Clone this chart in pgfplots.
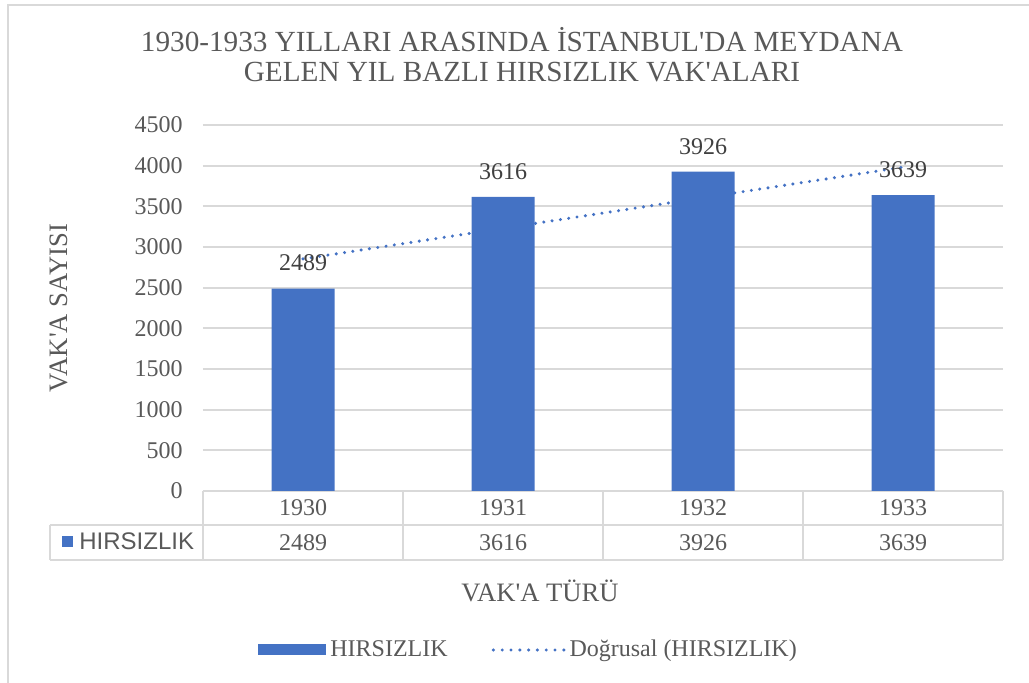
\documentclass[border=0pt]{standalone}
\usepackage{fontspec}
\setmainfont{Liberation Serif}[Ligatures=TeXOff]
\newfontfamily\sansf{Liberation Sans}
\usepackage{pgfplots}
\usepackage{pgfplotstable}
\pgfplotsset{compat=1.18}
\definecolor{barblue}{HTML}{4472C4}
\definecolor{txtgray}{HTML}{595959}
\definecolor{lblgray}{HTML}{404040}
\definecolor{gridgray}{HTML}{D9D9D9}
\pgfplotstableread{
x y
0 2489
1 3616
2 3926
3 3639
}\datatable
\begin{document}
\begin{tikzpicture}
\begin{scope}[x=0.5pt,y=-0.5pt]
\path[use as bounding box] (0,0) rectangle (1029,683);
\draw[gridgray, line width=1pt] (8,683) -- (8,5) -- (1029,5);
\node[anchor=base, font=\fontsize{14.6}{16}\selectfont, text=txtgray, inner sep=0pt] at (522,52) {1930-1933 YILLARI ARASINDA İSTANBUL'DA MEYDANA};
\node[anchor=base, font=\fontsize{14.6}{16}\selectfont, text=txtgray, inner sep=0pt] at (522,82) {GELEN YIL BAZLI HIRSIZLIK VAK'ALARI};
\node[anchor=base, rotate=90, font=\fontsize{13.3}{15}\selectfont, text=txtgray, inner sep=0pt] at (68,308) {VAK'A SAYISI};
\node[anchor=base, font=\fontsize{13.3}{15}\selectfont, text=txtgray, inner sep=0pt] at (540,602) {VAK'A TÜRÜ};
% data table
\draw[gridgray, line width=0.9pt] (203,491) -- (1003,491);
\draw[gridgray, line width=0.9pt] (50,525) -- (1003,525);
\draw[gridgray, line width=0.9pt] (50,560) -- (1003,560);
\foreach \xx in {203,403,603,803,1003} \draw[gridgray, line width=0.9pt] (\xx,491) -- (\xx,560);
\draw[gridgray, line width=0.9pt] (50,525) -- (50,560);
\foreach \xx/\yr/\v in {303/1930/2489, 503/1931/3616, 703/1932/3926, 903/1933/3639} {
  \node[anchor=base, font=\fontsize{12}{14}\selectfont, text=txtgray, inner sep=0pt] at (\xx,516) {\yr};
  \node[anchor=base, font=\fontsize{12}{14}\selectfont, text=txtgray, inner sep=0pt] at (\xx,551) {\v};
}
\fill[barblue] (62,536) rectangle (73,547);
\node[anchor=base west, font=\sansf\fontsize{12}{14}\selectfont, text=txtgray, inner sep=0pt] at (79,550) {HIRSIZLIK};
\end{scope}
\begin{axis}[
 at={(101.5pt,-245.5pt)}, anchor=south west,
 scale only axis, width=400pt, height=183pt,
 xmin=-0.5, xmax=3.5, ymin=0, ymax=4500,
 ytick={0,500,...,4500}, xtick=\empty,
 ymajorgrids, grid style={gridgray, line width=0.9pt},
 axis line style={draw=none},
 major tick length=0pt,
 tick label style={font=\fontsize{12}{14}\selectfont, text=txtgray},
 yticklabel style={inner sep=0pt, xshift=-10pt},
 /pgf/number format/assume math mode=true,
 /pgf/number format/1000 sep={},
 clip=false,
 legend style={at={(axis description cs:0.06875,-0.4344)}, anchor=west, draw=none, fill=none, inner sep=0pt,
   font=\fontsize{12}{14}\selectfont, text=txtgray, legend columns=2,
   /tikz/every even column/.append style={column sep=20pt}},
 legend cell align=left,
]
\addplot[barblue, line width=1.7pt, dash pattern=on 0pt off 4.2pt, line cap=round, forget plot] coordinates {(0,2853.5) (3,3981.5)};
\addplot[ybar, bar width=31.5pt, fill=barblue, draw=none,
  nodes near coords, nodes near coords align=vertical,
  every node near coord/.append style={inner sep=0pt, yshift=8.5pt, font=\fontsize{12}{14}\selectfont, text=lblgray},
  legend image code/.code={\fill[barblue] (0pt,-2.75pt) rectangle (34pt,2.75pt);}]
  table[x=x,y=y]{\datatable};
\addlegendentry{HIRSIZLIK}
\addlegendimage{legend image code/.code={\draw[barblue, line width=1.7pt, dash pattern=on 0pt off 4.4pt, line cap=round] (0pt,0pt) -- (35.2pt,0pt);}}
\addlegendentry{Doğrusal (HIRSIZLIK)}
\end{axis}
\end{tikzpicture}
\end{document}
